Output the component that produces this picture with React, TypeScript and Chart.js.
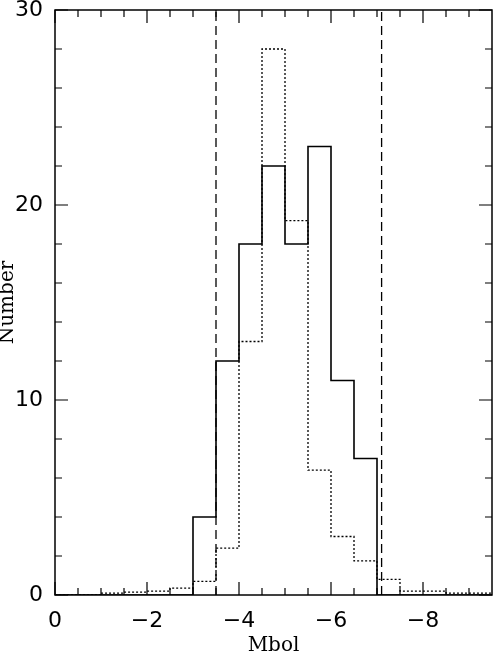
import React, { useEffect, useRef } from "react";
import { Chart, registerables } from "chart.js";

Chart.register(...registerables);

// Bin edges of the histograms (Mbol)
const binEdges = [0, -0.5, -1, -1.5, -2, -2.5, -3, -3.5, -4, -4.5, -5, -5.5, -6, -6.5, -7, -7.5, -8, -8.5, -9, -9.5];
// Solid histogram counts per bin
const solidCounts = [0, 0, 0, 0, 0, 0, 4, 12, 18, 22, 18, 23, 11, 7, 0, 0, 0, 0, 0];
// Dotted histogram counts per bin
const dottedCounts = [0, 0, 0.1, 0.15, 0.2, 0.35, 0.7, 2.4, 13, 28, 19.2, 6.4, 3.0, 1.75, 0.8, 0.2, 0.2, 0.1, 0.1];
// Dashed vertical limit lines
const limitLines = [-3.5, -7.1];

// Axis tick values
const xMajorTicks = [0, -2, -4, -6, -8];
const xMinorTicks = [-0.5, -1, -1.5, -2.5, -3, -3.5, -4.5, -5, -5.5, -6.5, -7, -7.5, -8.5, -9];
const yMajorTicks = [0, 10, 20, 30];
const yMinorTicks = [2, 4, 6, 8, 12, 14, 16, 18, 22, 24, 26, 28];

const xMin = -9.5;
const xMax = 0;
const yMin = 0;
const yMax = 30;

function stepPoints(counts: number[]) {
  const pts: { x: number; y: number }[] = [];
  counts.forEach((c, i) => {
    pts.push({ x: binEdges[i], y: c });
    pts.push({ x: binEdges[i + 1], y: c });
  });
  return pts;
}

const framePlugin = {
  id: "frameTicks",
  afterDatasetsDraw(chart: any) {
    const { ctx, chartArea, scales } = chart;
    const { left, right, top, bottom } = chartArea;
    const xs = scales.x;
    const ys = scales.y;
    ctx.save();
    ctx.strokeStyle = "#000";
    ctx.lineWidth = 1.5;
    ctx.setLineDash([]);
    ctx.strokeRect(left, top, right - left, bottom - top);
    ctx.lineWidth = 1.2;
    const majorLen = 13;
    const minorLen = 7;
    const drawX = (v: number, len: number) => {
      const px = xs.getPixelForValue(v);
      ctx.beginPath();
      ctx.moveTo(px, bottom);
      ctx.lineTo(px, bottom - len);
      ctx.moveTo(px, top);
      ctx.lineTo(px, top + len);
      ctx.stroke();
    };
    const drawY = (v: number, len: number) => {
      const py = ys.getPixelForValue(v);
      ctx.beginPath();
      ctx.moveTo(left, py);
      ctx.lineTo(left + len, py);
      ctx.moveTo(right, py);
      ctx.lineTo(right - len, py);
      ctx.stroke();
    };
    xMajorTicks.forEach((v) => drawX(v, majorLen));
    xMinorTicks.forEach((v) => drawX(v, minorLen));
    yMajorTicks.forEach((v) => drawY(v, majorLen));
    yMinorTicks.forEach((v) => drawY(v, minorLen));
    ctx.restore();
  },
};

const fmt = (v: number) => (v === 0 ? "0" : v < 0 ? "\u2212" + Math.abs(v) : String(v));

export default function App() {
  const canvasRef = useRef<HTMLCanvasElement | null>(null);

  useEffect(() => {
    document.body.style.margin = "0";
    const canvas = canvasRef.current;
    if (!canvas) return;

    const datasets: any[] = [
      {
        data: stepPoints(dottedCounts),
        borderColor: "#000",
        borderWidth: 1.3,
        borderDash: [2, 2],
        pointRadius: 0,
        fill: false,
        tension: 0,
      },
      {
        data: stepPoints(solidCounts),
        borderColor: "#000",
        borderWidth: 1.6,
        pointRadius: 0,
        fill: false,
        tension: 0,
      },
      ...limitLines.map((x) => ({
        data: [
          { x, y: yMin },
          { x, y: yMax },
        ],
        borderColor: "#000",
        borderWidth: 1.3,
        borderDash: [9, 5],
        pointRadius: 0,
        fill: false,
      })),
    ];

    const chart = new Chart(canvas, {
      type: "line",
      data: { datasets },
      plugins: [framePlugin],
      options: {
        animation: false,
        responsive: false,
        maintainAspectRatio: false,
        layout: { padding: { top: 10, right: 2, left: 0, bottom: 0 } },
        plugins: {
          legend: { display: false },
          tooltip: { enabled: false },
        },
        scales: {
          x: {
            type: "linear",
            min: xMin,
            max: xMax,
            reverse: true,
            grid: { display: false, drawTicks: false },
            border: { display: false },
            afterBuildTicks: (s: any) => {
              s.ticks = xMajorTicks.map((v) => ({ value: v }));
            },
            afterFit: (s: any) => {
              s.height = 58;
              s.paddingLeft = 0;
              s.paddingRight = 0;
            },
            ticks: {
              autoSkip: false,
              maxRotation: 0,
              padding: 13,
              color: "#000",
              font: { family: "DejaVu Sans", size: 22 },
              callback: (v: any) => fmt(Number(v)),
            },
            title: {
              display: true,
              text: "Mbol",
              color: "#000",
              font: { family: "DejaVu Serif", size: 20, lineHeight: 1 },
              padding: { top: 0, bottom: -3 },
            },
          },
          y: {
            type: "linear",
            min: yMin,
            max: yMax,
            grid: { display: false, drawTicks: false },
            border: { display: false },
            afterBuildTicks: (s: any) => {
              s.ticks = yMajorTicks.map((v) => ({ value: v }));
            },
            afterFit: (s: any) => {
              s.width = 55;
              s.paddingTop = 0;
              s.paddingBottom = 0;
            },
            ticks: {
              padding: 12,
              color: "#000",
              font: { family: "DejaVu Sans", size: 22 },
              callback: (v: any) => fmt(Number(v)),
            },
            title: {
              display: true,
              text: "Number",
              color: "#000",
              font: { family: "DejaVu Serif", size: 20, lineHeight: 1 },
              padding: { top: -2, bottom: 0 },
            },
          },
        },
      },
    });
    return () => chart.destroy();
  }, []);

  return (
    <div style={{ width: 494, height: 653, background: "#fff" }}>
      <canvas ref={canvasRef} width={494} height={653} style={{ display: "block" }} />
    </div>
  );
}
